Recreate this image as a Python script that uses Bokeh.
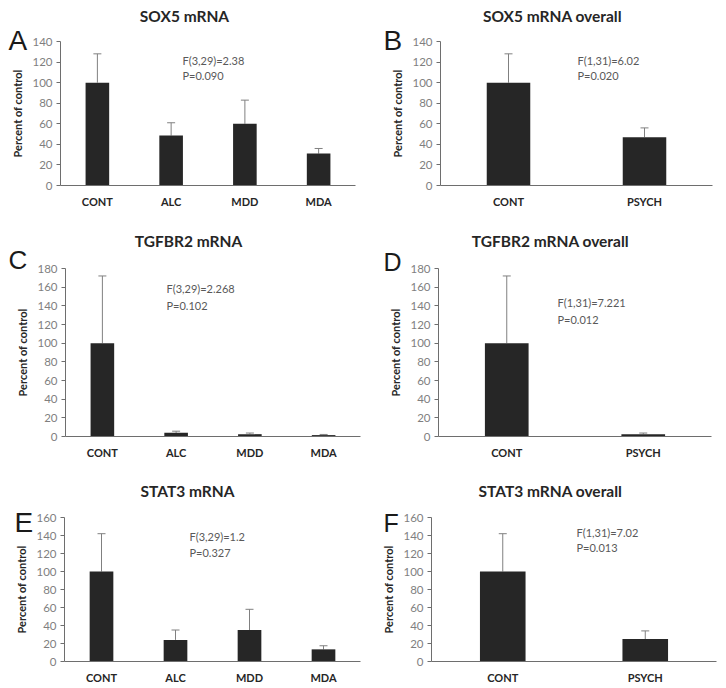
from bokeh.plotting import figure
from bokeh.models import ColumnDataSource, Whisker, TeeHead, Range1d, FixedTicker, Label
from bokeh.layouts import column, row
from bokeh.embed import file_html
from bokeh.resources import INLINE

# ---------------- data ----------------
groups4 = ["CONT", "ALC", "MDD", "MDA"]
groups2 = ["CONT", "PSYCH"]

sox5_means = [100, 48.5, 60, 31]
sox5_errs = [28, 12.5, 23, 5]
sox5_overall_means = [100, 47]
sox5_overall_errs = [28, 9]

tgfbr2_means = [100, 4, 2.5, 1.5]
tgfbr2_errs = [72, 1.7, 1.2, 0.7]
tgfbr2_overall_means = [100, 2.5]
tgfbr2_overall_errs = [72, 1.2]

stat3_means = [100, 24, 35, 13.5]
stat3_errs = [42, 11, 23, 4]
stat3_overall_means = [100, 25]
stat3_overall_errs = [42, 9]

ticks_140 = [0, 20, 40, 60, 80, 100, 120, 140]
ticks_180 = [0, 20, 40, 60, 80, 100, 120, 140, 160, 180]
ticks_160 = [0, 20, 40, 60, 80, 100, 120, 140, 160]

titles = ["SOX5 mRNA", "SOX5 mRNA overall", "TGFBR2 mRNA", "TGFBR2 mRNA overall",
          "STAT3 mRNA", "STAT3 mRNA overall"]
letters = ["A", "B", "C", "D", "E", "F"]
stats_f = ["F(3,29)=2.38", "F(1,31)=6.02", "F(3,29)=2.268", "F(1,31)=7.221",
           "F(3,29)=1.2", "F(1,31)=7.02"]
stats_p = ["P=0.090", "P=0.020", "P=0.102", "P=0.012", "P=0.327", "P=0.013"]
y_label = "Percent of control"

# ---------------- layout (pixel geometry of the reference) ----------------
COLS = [(0, 363), (363, 355)]               # reference x origin, width
ROWS = [(0, 222), (222, 251), (473, 213)]   # reference y origin, height

# axes box (left, right, top, bottom); title centre; letter centre + size; stats left/middle
GEOM = [
    dict(frame=(60, 355, 41, 185), title=(184, 15), letter=(8, 40, 28), f=(182, 60), p=(182, 75)),
    dict(frame=(440, 712, 41, 185), title=(552, 15), letter=(383, 40, 28), f=(577, 60), p=(577, 75)),
    dict(frame=(65, 360, 268, 436), title=(188, 240), letter=(8, 259, 26), f=(166, 288), p=(166, 305)),
    dict(frame=(438, 711, 268, 436), title=(550, 240), letter=(383, 261, 25), f=(557, 302), p=(557, 319)),
    dict(frame=(64, 360, 517, 661), title=(187, 490), letter=(14, 522, 28), f=(189, 536), p=(189, 552)),
    dict(frame=(431, 716, 517, 661), title=(550, 490), letter=(383, 522, 25), f=(576, 532), p=(576, 547)),
]

FONT = "Lato"
BAR = "#262626"
AXIS = "#6e6e6e"


def make_panel(i, cats, means, errs, ymax, ticks):
    g = GEOM[i]
    cx, cw = COLS[i % 2]
    ry, rh = ROWS[i // 2]
    al, ar, at, ab = g["frame"]      # axes box in reference pixels
    n = len(cats)
    u = (ar - al) / n                # px per category
    v = (ab - at) / ymax             # px per y unit
    xr = Range1d(0.5 - (al - cx) / u, n + 0.5 + (cx + cw - ar) / u)
    yr = Range1d(-(ry + rh - ab) / v, ymax + (at - ry) / v)

    p = figure(x_range=xr, y_range=yr, width=cw, height=rh,
               output_backend="svg", toolbar_location=None, tools="")
    p.min_border = 0
    p.outline_line_color = None
    p.xgrid.grid_line_color = None
    p.ygrid.grid_line_color = None
    p.background_fill_color = "white"
    p.border_fill_color = "white"

    pos = list(range(1, n + 1))
    tops = [m + e for m, e in zip(means, errs)]
    src = ColumnDataSource(dict(x=pos, val=means, top=tops))
    p.add_layout(Whisker(base="x", lower="val", upper="top", source=src,
                         line_color="#808080", line_width=1,
                         lower_head=None,
                         upper_head=TeeHead(size=8, line_color="#808080", line_width=1)))
    p.vbar(x="x", top="val", width=0.32, source=src, fill_color=BAR, line_color=None)

    # y axis
    p.yaxis.fixed_location = 0.5
    p.yaxis.bounds = (0, ymax)
    p.yaxis.ticker = FixedTicker(ticks=ticks)
    p.yaxis.minor_tick_line_color = None
    p.yaxis.major_tick_out = 4
    p.yaxis.major_tick_in = 0
    p.yaxis.major_tick_line_color = AXIS
    p.yaxis.axis_line_color = AXIS
    p.yaxis.major_label_text_color = "#7f7f7f"
    p.yaxis.major_label_text_font = FONT
    p.yaxis.major_label_text_font_size = "11.5px"
    p.yaxis.major_label_standoff = 4
    p.yaxis.axis_label = y_label
    p.yaxis.axis_label_text_font = FONT
    p.yaxis.axis_label_text_font_size = "11px"
    p.yaxis.axis_label_text_font_style = "bold"
    p.yaxis.axis_label_text_color = "#262626"
    p.yaxis.axis_label_standoff = 5

    # x axis
    p.xaxis.fixed_location = 0
    p.xaxis.bounds = (0.5, n + 0.5)
    p.xaxis.ticker = FixedTicker(ticks=pos)
    p.xaxis.major_label_overrides = {k: c for k, c in zip(pos, cats)}
    p.xaxis.axis_line_color = AXIS
    p.xaxis.major_tick_line_color = None
    p.xaxis.major_tick_out = 0
    p.xaxis.major_tick_in = 0
    p.xaxis.minor_tick_line_color = None
    p.xaxis.minor_tick_out = 0
    p.xaxis.major_label_text_font = FONT
    p.xaxis.major_label_text_font_size = "11px"
    p.xaxis.major_label_text_font_style = "bold"
    p.xaxis.major_label_text_color = "#262626"
    p.xaxis.major_label_standoff = 9

    # texts (screen units, measured from the canvas bottom-left = frame)
    def sx(x):
        return x - cx

    def sy(y):
        return ry + rh - y

    tx, ty = g["title"]
    p.add_layout(Label(x=sx(tx), y=sy(ty), x_units="screen", y_units="screen",
                       text=titles[i], text_font=FONT, text_font_size="15.5px",
                       text_font_style="bold", text_color="#262626",
                       text_align="center", text_baseline="middle"))
    lx, ly, ls = g["letter"]
    p.add_layout(Label(x=sx(lx), y=sy(ly), x_units="screen", y_units="screen",
                       text=letters[i], text_font="Liberation Sans",
                       text_font_size=f"{ls}px", text_color="#1a1a1a",
                       text_align="left", text_baseline="middle"))
    for (px_, py_), txt in ((g["f"], stats_f[i]), (g["p"], stats_p[i])):
        p.add_layout(Label(x=sx(px_), y=sy(py_), x_units="screen", y_units="screen",
                           text=txt, text_font=FONT, text_font_size="11px",
                           text_color="#595959", text_align="left",
                           text_baseline="middle"))
    return p


pA = make_panel(0, groups4, sox5_means, sox5_errs, 140, ticks_140)
pB = make_panel(1, groups2, sox5_overall_means, sox5_overall_errs, 140, ticks_140)
pC = make_panel(2, groups4, tgfbr2_means, tgfbr2_errs, 180, ticks_180)
pD = make_panel(3, groups2, tgfbr2_overall_means, tgfbr2_overall_errs, 180, ticks_180)
pE = make_panel(4, groups4, stat3_means, stat3_errs, 160, ticks_160)
pF = make_panel(5, groups2, stat3_overall_means, stat3_overall_errs, 160, ticks_160)

layout = column(row(pA, pB), row(pC, pD), row(pE, pF))
open("out.html", "w").write(file_html(layout, INLINE))
